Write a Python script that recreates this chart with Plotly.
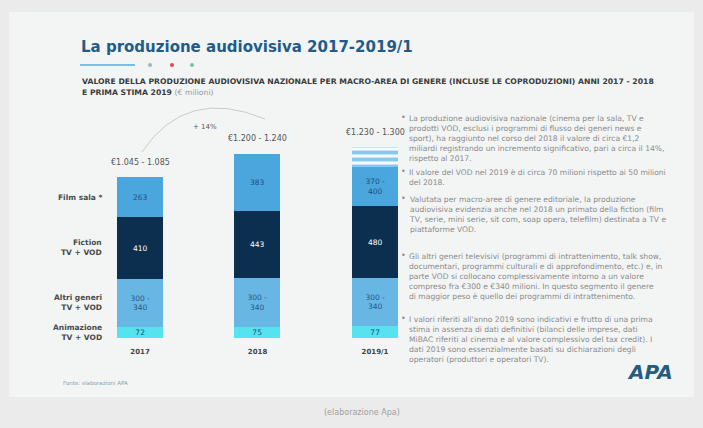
import plotly.graph_objects as go

W, H = 703, 428

# ---------------- data ----------------
years = ["2017", "2018", "2019/1"]
animazione = [72, 75, 77]
altri_low = [300, 300, 300]
altri_high = [340, 340, 340]
fiction = [410, 443, 480]
film_sala = [263, 383, None]           # 2019 given as range
film_2019_low, film_2019_high = 370, 400
film_solid = [263, 383, 255]           # drawn solid part
film_striped = [0, 0, 130]             # drawn striped (estimate) part of 2019
totals_text = ["€1.045 - 1.085", "€1.200 - 1.240", "€1.230 - 1.300"]
film_labels = ["263", "383", "370 -<br>400"]
fiction_labels = ["410", "443", "480"]
altri_labels = ["300 -<br>340", "300 -<br>340", "300 -<br>340"]
anim_labels = ["72", "75", "77"]
cat_labels = ["Animazione<br>TV + VOD", "Altri generi<br>TV + VOD", "Fiction<br>TV + VOD", "Film sala *"]
growth_label = "+ 14%"

title = "La produzione audiovisiva 2017-2019/1"
subtitle1 = "VALORE DELLA PRODUZIONE AUDIOVISIVA NAZIONALE PER MACRO-AREA DI GENERE (INCLUSE LE COPRODUZIONI) ANNI 2017 - 2018"
subtitle2 = "E PRIMA STIMA 2019 <span style='font-weight:normal;color:#9a9a9a'>(€ milioni)</span>"

bullets = [
    "La produzione audiovisiva nazionale (cinema per la sala, TV e<br>prodotti VOD, esclusi i programmi di flusso dei generi news e<br>sport), ha raggiunto nel corso del 2018 il valore di circa €1,2<br>miliardi registrando un incremento significativo, pari a circa il 14%,<br>rispetto al 2017.",
    "Il valore del VOD nel 2019 è di circa 70 milioni rispetto ai 50 milioni<br>del 2018.",
    "Valutata per macro-aree di genere editoriale, la produzione<br>audiovisiva evidenzia anche nel 2018 un primato della fiction (film<br>TV, serie, mini serie, sit com, soap opera, telefilm) destinata a TV e<br>piattaforme VOD.",
    "Gli altri generi televisivi (programmi di intrattenimento, talk show,<br>documentari, programmi culturali e di approfondimento, etc.) e, in<br>parte VOD si collocano complessivamente intorno a un valore<br>compreso fra €300 e €340 milioni. In questo segmento il genere<br>di maggior peso è quello dei programmi di intrattenimento.",
    "I valori riferiti all'anno 2019 sono indicativi e frutto di una prima<br>stima in assenza di dati definitivi (bilanci delle imprese, dati<br>MiBAC riferiti al cinema e al valore complessivo del tax credit). I<br>dati 2019 sono essenzialmente basati su dichiarazioni degli<br>operatori (produttori e operatori TV).",
]
bullet_y = [117, 172, 198, 255, 318]
source_text = "Fonte: elaborazioni APA"
caption = "(elaborazione Apa)"

# ---------------- helpers ----------------
def px(x):
    return x / W

def py(y):
    return 1 - y / H

altri = [(a + b) / 2 for a, b in zip(altri_low, altri_high)]
xs = [0, 1, 2]
FONT = "DejaVu Sans"

C_FILM = "#4ba6de"
C_FICTION = "#0c2f50"
C_ALTRI = "#67b6e4"
C_ANIM = "#55e3ef"

fig = go.Figure()

def add_bar(vals, color, texts, tcolor, name, pattern=None):
    marker = dict(color=color, line=dict(width=0))
    if pattern:
        marker["pattern"] = pattern
    fig.add_trace(go.Bar(
        x=xs, y=vals, name=name, width=0.39, marker=marker,
        text=texts, textposition="inside", insidetextanchor="middle",
        constraintext="none",
        textfont=dict(family=FONT, size=7.5, color=tcolor),
        hoverinfo="skip", showlegend=False,
    ))

add_bar(animazione, C_ANIM, anim_labels, "#1d4f7c", "Animazione")
add_bar(altri, C_ALTRI, altri_labels, "#245a88", "Altri generi")
add_bar(fiction, C_FICTION, fiction_labels, "#ffffff", "Fiction")
add_bar(film_solid, C_FILM, film_labels, "#1d4f7c", "Film sala")
add_bar(film_striped, "#f2f8fc", ["", "", ""], "#1d4f7c", "Film sala stima",
        pattern=dict(shape="-", fgcolor="#86c6ef", bgcolor="#f4fafd", size=7, solidity=0.55, fillmode="replace"))

fig.update_layout(barmode="stack")

ann = []
# totals above bars
for i in range(3):
    tot = animazione[i] + altri[i] + fiction[i] + film_solid[i] + film_striped[i]
    ann.append(dict(x=xs[i], y=tot, xref="x", yref="y", text=totals_text[i], showarrow=False,
                    yshift=15, font=dict(family=FONT, size=8, color="#555555")))

# category labels at 2017 segment midpoints
stack0 = [animazione[0], altri[0], fiction[0], film_solid[0]]
base = 0
for lab, v in zip(cat_labels, stack0):
    ann.append(dict(x=px(104), y=base + v / 2, xref="paper", yref="y", text="<b>%s</b>" % lab,
                    showarrow=False, xanchor="right", yanchor="middle", align="right",
                    font=dict(family=FONT, size=7.5, color="#4a4a4a")))
    base += v

# growth label
ann.append(dict(x=px(191), y=py(121), xref="paper", yref="paper", text=growth_label, showarrow=False,
                font=dict(family=FONT, size=7, color="#555555")))

# title and subtitle
ann.append(dict(x=px(79), y=py(47), xref="paper", yref="paper", text="<b>%s</b>" % title, showarrow=False,
                xanchor="left", yanchor="middle", font=dict(family=FONT, size=15, color="#1f5c8a")))
ann.append(dict(x=px(80), y=py(82), xref="paper", yref="paper", text="<b>%s</b>" % subtitle1, showarrow=False,
                xanchor="left", yanchor="middle", font=dict(family=FONT, size=7.7, color="#3a3a3a")))
ann.append(dict(x=px(80), y=py(92), xref="paper", yref="paper", text="<b>%s</b>" % subtitle2, showarrow=False,
                xanchor="left", yanchor="middle", font=dict(family=FONT, size=7.7, color="#3a3a3a")))

# bullets
for yb, txt in zip(bullet_y, bullets):
    ann.append(dict(x=px(399), y=py(yb), xref="paper", yref="paper", text="•", showarrow=False,
                    xanchor="left", yanchor="middle", font=dict(family=FONT, size=8, color="#8a8a8a")))
    ann.append(dict(x=px(407), y=py(yb - 5.5), xref="paper", yref="paper", text=txt, showarrow=False,
                    xanchor="left", yanchor="top", align="left",
                    font=dict(family=FONT, size=7.6, color="#8a8a8a")))

# source, logo, caption
ann.append(dict(x=px(61), y=py(383), xref="paper", yref="paper", text=source_text, showarrow=False,
                xanchor="left", yanchor="middle", font=dict(family=FONT, size=5.5, color="#8aa0b0")))
ann.append(dict(x=px(650), y=py(372), xref="paper", yref="paper", text="<b><i>APA</i></b>", showarrow=False,
                xanchor="center", yanchor="middle", font=dict(family=FONT, size=20, color="#245d80")))
ann.append(dict(x=px(362), y=py(412), xref="paper", yref="paper", text=caption, showarrow=False,
                xanchor="center", yanchor="middle", font=dict(family=FONT, size=8, color="#a0a0a0")))

shapes = [
    # card
    dict(type="rect", xref="paper", yref="paper", x0=px(9), x1=px(694), y0=py(397), y1=py(12),
         fillcolor="#f3f5f5", line=dict(width=0), layer="below"),
    # decorative line and dots
    dict(type="line", xref="paper", yref="paper", x0=px(80), x1=px(135), y0=py(65), y1=py(65),
         line=dict(color="#78c0ea", width=2)),
    dict(type="circle", xref="paper", yref="paper", x0=px(148), x1=px(152), y0=py(67), y1=py(63),
         fillcolor="#9bb4c6", line=dict(width=0)),
    dict(type="circle", xref="paper", yref="paper", x0=px(170), x1=px(174), y0=py(67), y1=py(63),
         fillcolor="#e2474c", line=dict(width=0)),
    dict(type="circle", xref="paper", yref="paper", x0=px(190), x1=px(194), y0=py(67), y1=py(63),
         fillcolor="#74c2a8", line=dict(width=0)),
    # growth arc
    dict(type="path", xref="paper", yref="paper",
         path="M %f,%f Q %f,%f %f,%f" % (px(142), py(152), px(186), py(86), px(265), py(119)),
         line=dict(color="#c9c9c9", width=1)),
]

fig.update_layout(
    width=W, height=H, autosize=False,
    margin=dict(l=0, r=0, t=0, b=0),
    paper_bgcolor="#ebebeb", plot_bgcolor="rgba(0,0,0,0)",
    xaxis=dict(domain=[81.25 / W, 433.75 / W], range=[-0.5, 2.5], tickvals=xs,
               ticktext=["<b>%s</b>" % y for y in years], showgrid=False, zeroline=False,
               showline=False, ticks="", ticklabelstandoff=8,
               tickfont=dict(family=FONT, size=7, color="#444444")),
    yaxis=dict(domain=[1 - 338 / H, 1 - 100 / H], range=[0, 1576], visible=False),
    bargap=0, annotations=ann, shapes=shapes, showlegend=False,
)

fig.write_html("out.html", config={"displayModeBar": False},
               post_script="document.body.style.margin='0';document.body.style.overflow='hidden';")
